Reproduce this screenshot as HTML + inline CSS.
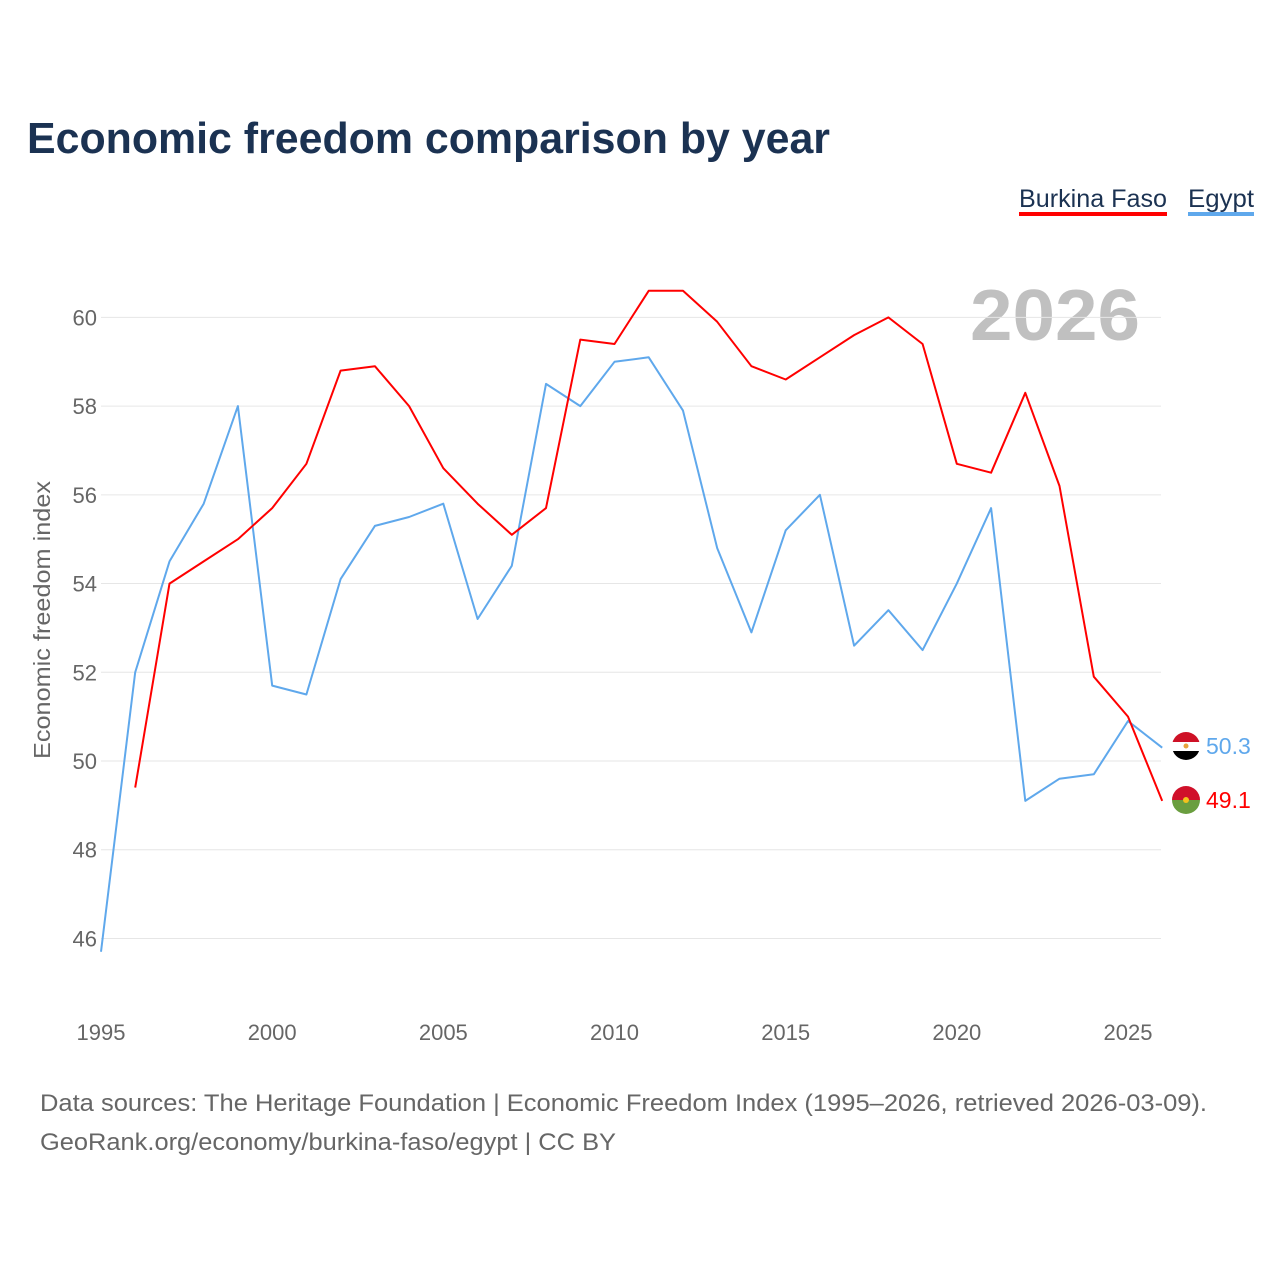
<!DOCTYPE html>
<html><head><meta charset="utf-8"><style>
body{margin:0;background:#fff;font-family:"Liberation Sans",sans-serif;}
</style></head><body>
<svg width="1280" height="1280" xmlns="http://www.w3.org/2000/svg">
<text x="27" y="153" font-size="44" font-weight="bold" fill="#1b3252" textLength="803" lengthAdjust="spacingAndGlyphs">Economic freedom comparison by year</text>
<g>
<text x="1019" y="207" font-size="25" fill="#1b3252" textLength="148" lengthAdjust="spacingAndGlyphs">Burkina Faso</text>
<rect x="1019" y="212" width="148" height="4" fill="#ff0000"/>
<text x="1188" y="207" font-size="25" fill="#1b3252" textLength="66" lengthAdjust="spacingAndGlyphs">Egypt</text>
<rect x="1188" y="212" width="66" height="4" fill="#5fa8ec"/>
</g>
<text x="1140" y="340" text-anchor="end" font-size="72" font-weight="bold" fill="#c0c0c0" textLength="170" lengthAdjust="spacingAndGlyphs">2026</text>
<g id="grid"></g><g id="yt"></g><g id="xt"></g><g id="lines"></g>
<text transform="translate(50,620) rotate(-90)" text-anchor="middle" font-size="23" fill="#666" textLength="278" lengthAdjust="spacingAndGlyphs">Economic freedom index</text>
<g>
<clipPath id="ce"><circle cx="1186" cy="746" r="14"/></clipPath>
<g clip-path="url(#ce)"><rect x="1172" y="732" width="28" height="10" fill="#ce1126"/><rect x="1172" y="742" width="28" height="9" fill="#fff"/><rect x="1172" y="751" width="28" height="10" fill="#000"/></g>
<circle cx="1186" cy="746" r="2.5" fill="#e8a33d"/>
<text x="1206" y="754" font-size="23" fill="#5fa8ec">50.3</text>
</g>
<g>
<clipPath id="cb"><circle cx="1186" cy="800" r="14"/></clipPath>
<g clip-path="url(#cb)"><rect x="1172" y="786" width="28" height="14" fill="#d0102a"/><rect x="1172" y="800" width="28" height="14" fill="#6a9e3f"/></g>
<circle cx="1186" cy="800" r="3" fill="#f4c21c"/>
<text x="1206" y="808" font-size="23" fill="#ff0000">49.1</text>
</g>
<text x="40" y="1111" font-size="24" fill="#666" textLength="1167" lengthAdjust="spacingAndGlyphs">Data sources: The Heritage Foundation | Economic Freedom Index (1995–2026, retrieved 2026-03-09).</text>
<text x="40" y="1150" font-size="24" fill="#666" textLength="576" lengthAdjust="spacingAndGlyphs">GeoRank.org/economy/burkina-faso/egypt | CC BY</text>
</svg>
<script>
const years=[1995,1996,1997,1998,1999,2000,2001,2002,2003,2004,2005,2006,2007,2008,2009,2010,2011,2012,2013,2014,2015,2016,2017,2018,2019,2020,2021,2022,2023,2024,2025,2026];
const burkina=[null,49.4,54.0,54.5,55.0,55.7,56.7,58.8,58.9,58.0,56.6,55.8,55.1,55.7,59.5,59.4,60.6,60.6,59.9,58.9,58.6,59.1,59.6,60.0,59.4,56.7,56.5,58.3,56.2,51.9,51.0,49.1];
const egypt=[45.7,52.0,54.5,55.8,58.0,51.7,51.5,54.1,55.3,55.5,55.8,53.2,54.4,58.5,58.0,59.0,59.1,57.9,54.8,52.9,55.2,56.0,52.6,53.4,52.5,54.0,55.7,49.1,49.6,49.7,50.9,50.3];
const yTicks=[46,48,50,52,54,56,58,60];
const xTicks=[1995,2000,2005,2010,2015,2020,2025];
const NS="http://www.w3.org/2000/svg";
const xs=y=>101+(y-1995)*(1128-101)/30;
const ys=v=>761-(v-50)*44.36;
function mk(t,a,p){const e=document.createElementNS(NS,t);for(const k in a)e.setAttribute(k,a[k]);document.getElementById(p).appendChild(e);return e;}
yTicks.forEach(v=>{
 const l=mk('line',{x1:101,x2:1161,y1:ys(v),y2:ys(v),stroke:'#e6e6e6','stroke-width':1},'grid');
 
 
 const t=mk('text',{x:97,y:ys(v)+8,'text-anchor':'end','font-size':22,fill:'#666'},'yt');t.textContent=v;
 
 
});
xTicks.forEach(v=>{
 const t=mk('text',{x:xs(v),y:1040,'text-anchor':'middle','font-size':22,fill:'#666'},'xt');t.textContent=v;
 
 
});
function line(d,c,n){
 let p='';d.forEach((v,i)=>{if(v==null)return;p+=(p?'L':'M')+xs(years[i]).toFixed(1)+','+ys(v).toFixed(1);});
 const e=mk('path',{d:p,fill:'none',stroke:c,'stroke-width':2,'stroke-linejoin':'round'},'lines');
 
 
}
line(egypt,'#5fa8ec','egypt-line');
line(burkina,'#ff0000','burkina-faso-line');
</script>
</body></html>
